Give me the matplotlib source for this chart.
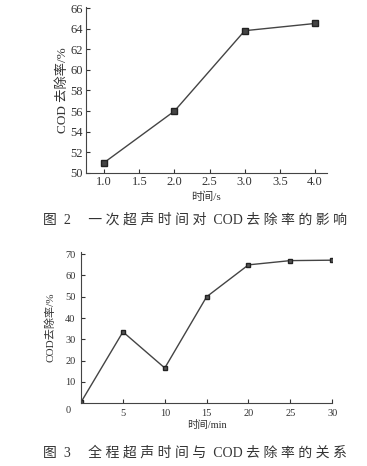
import matplotlib
matplotlib.use('Agg')
import matplotlib.pyplot as plt

plt.rcParams['font.family'] = ['Liberation Serif', 'Noto Sans CJK SC']
plt.rcParams['axes.unicode_minus'] = False

# --- 图2 数据: 一次超声时间 ---
t_once = [1.0, 2.0, 3.0, 4.0]
cod_once = [51.0, 56.0, 63.8, 64.5]
xticks_once = [1.0, 1.5, 2.0, 2.5, 3.0, 3.5, 4.0]
yticks_once = [50, 52, 54, 56, 58, 60, 62, 64, 66]

# --- 图3 数据: 全程超声时间 ---
t_full = [0, 5, 10, 15, 20, 25, 30]
cod_full = [0.5, 33.5, 16.5, 50.0, 65.0, 67.0, 67.2]
xticks_full = [0, 5, 10, 15, 20, 25, 30]
yticks_full = [10, 20, 30, 40, 50, 60, 70]

cap2 = '图 2　一次超声时间对 COD 去除率的影响'
cap3 = '图 3　全程超声时间与 COD 去除率的关系'


def spaced(s):
    # 图题字间距较宽, 中文字之间加空格
    out = ''
    for ch in s:
        out += ch
        if ord(ch) > 0x2e80:
            out += ' '
    return out.strip()


line_col = '#444444'
fig = plt.figure(figsize=(3.67, 4.66), dpi=100)

# 图2
ax1 = fig.add_axes([0.234, 0.629, 0.657, 0.356])
ax1.plot(t_once, cod_once, color=line_col, lw=1.0, marker='s', ms=4,
         mfc='#444444', mec='#222222')
ax1.set_xlim(0.74, 4.17)
ax1.set_ylim(50, 66.1)
ax1.set_xticks(xticks_once)
ax1.set_xticklabels([f'{v:.1f}' for v in xticks_once])
ax1.set_yticks(yticks_once)
ax1.tick_params(direction='in', length=3, width=0.8, labelsize=9, pad=2, colors='#333333')
for s in ['top', 'right']:
    ax1.spines[s].set_visible(False)
for s in ['left', 'bottom']:
    ax1.spines[s].set_color('#444444')
ax1.set_ylabel('COD 去除率/%', fontsize=9.5, labelpad=1, color='#333333')
ax1.set_xlabel('时间/s', fontsize=8, labelpad=3, color='#333333')
fig.text(0.53, 0.528, spaced(cap2),
         ha='center', va='center', fontsize=10, color='#333333')

# 图3
ax2 = fig.add_axes([0.221, 0.135, 0.684, 0.324])
ax2.plot(t_full, cod_full, color=line_col, lw=1.0, marker='s', ms=3.5,
         mfc='#555555', mec='#222222')
ax2.set_xlim(0, 30)
ax2.set_ylim(0, 71)
ax2.set_xticks(xticks_full)
ax2.set_xticklabels([''] + [str(v) for v in xticks_full[1:]])
ax2.set_yticks(yticks_full)
ax2.tick_params(direction='in', length=3, width=0.8, labelsize=7.5, pad=4, colors='#333333')
for s in ['top', 'right']:
    ax2.spines[s].set_visible(False)
for s in ['left', 'bottom']:
    ax2.spines[s].set_color('#444444')
ax2.text(-1.5, -1.5, '0', ha='center', va='top', fontsize=7.5, color='#333333')
ax2.set_ylabel('COD去除率/%', fontsize=8, labelpad=7, color='#333333')
ax2.set_xlabel('时间/min', fontsize=7.5, labelpad=2, color='#333333')
fig.text(0.53, 0.028, spaced(cap3),
         ha='center', va='center', fontsize=10, color='#333333')

fig.savefig('out.png', dpi=100)
